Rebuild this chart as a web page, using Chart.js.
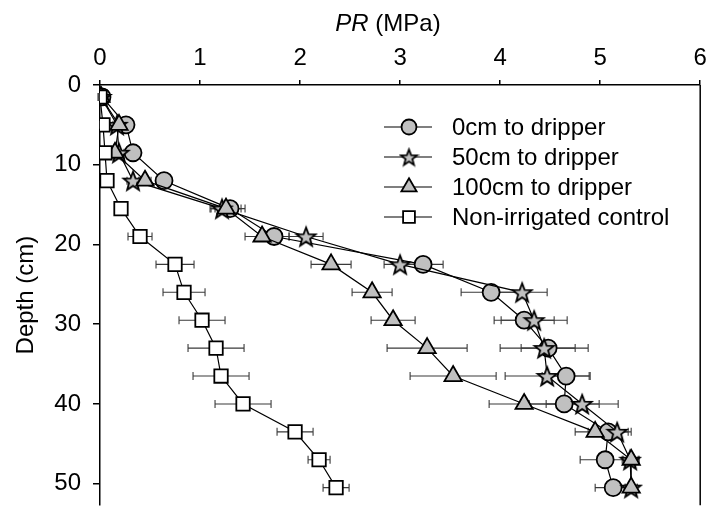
<!DOCTYPE html>
<html lang="en">
<head>
<meta charset="UTF-8">
<title>Penetration resistance by depth</title>
<script src="https://cdn.jsdelivr.net/npm/chart.js"></script>
<style>
    html, body { margin: 0; padding: 0; background: #fff; overflow: hidden; }
    #wrap { width: 712px; height: 517px; }
</style>
</head>
<body>
<div id="wrap"><canvas id="prChart" width="712" height="517"></canvas></div>
<script>
// sampling depths (cm), shared by all four profiles
const depths = [1.5, 5, 8.5, 12, 15.5, 19, 22.5, 26, 29.5, 33, 36.5, 40, 43.5, 47, 50.5];

// penetration resistance (MPa) and the +/- error for each profile
const pr0cm      = [0.02, 0.26, 0.33, 0.64, 1.30, 1.74, 3.23, 3.91, 4.24, 4.48, 4.66, 4.64, 5.08, 5.05, 5.13];
const err0cm     = [0.02, 0.05, 0.05, 0.06, 0.15, 0.15, 0.20, 0.30, 0.30, 0.27, 0.24, 0.35, 0.20, 0.25, 0.18];
const pr50cm     = [0.01, 0.17, 0.19, 0.33, 1.22, 2.06, 3.00, 4.22, 4.34, 4.44, 4.47, 4.82, 5.17, 5.30, 5.31];
const err50cm    = [0.02, 0.04, 0.05, 0.06, 0.12, 0.17, 0.16, 0.25, 0.33, 0.44, 0.42, 0.36, 0.14, 0.08, 0.06];
const pr100cm    = [0.01, 0.19, 0.15, 0.45, 1.26, 1.62, 2.31, 2.72, 2.93, 3.27, 3.53, 4.24, 4.95, 5.31, 5.31];
const err100cm   = [0.02, 0.04, 0.05, 0.06, 0.15, 0.17, 0.20, 0.20, 0.22, 0.40, 0.43, 0.35, 0.20, 0.08, 0.06];
const prControl  = [0.00, 0.03, 0.05, 0.07, 0.21, 0.40, 0.75, 0.84, 1.02, 1.16, 1.21, 1.43, 1.95, 2.19, 2.36];
const errControl = [0.02, 0.03, 0.04, 0.05, 0.06, 0.12, 0.19, 0.21, 0.23, 0.28, 0.28, 0.28, 0.18, 0.11, 0.13];

const seriesNames = ['0cm to dripper', '50cm to dripper', '100cm to dripper', 'Non-irrigated control'];
const xTicks = [0, 1, 2, 3, 4, 5, 6];
const yTicks = [0, 10, 20, 30, 40, 50];

const FONT = 'Arial, "Liberation Sans", sans-serif';
const GREY = '#c0c0c0';

// filled five-point star, used as a point style
function makeStar(outer, inner) {
    const size = Math.ceil(outer * 2 + 4);
    const c = document.createElement('canvas');
    c.width = c.height = size;
    const g = c.getContext('2d');
    g.beginPath();
    for (let i = 0; i < 10; i++) {
        const r = i % 2 ? inner : outer;
        const a = -Math.PI / 2 + i * Math.PI / 5;
        g.lineTo(size / 2 + r * Math.cos(a), size / 2 + 1 + r * Math.sin(a));
    }
    g.closePath();
    g.fillStyle = GREY;
    g.fill();
    g.lineWidth = 1.8;
    g.lineJoin = 'miter';
    g.strokeStyle = '#000';
    g.stroke();
    return c;
}
const starImg = makeStar(10, 4.2);
const starSmall = makeStar(8.5, 3.6);

function points(xs) {
    return xs.map((v, i) => ({ x: v, y: depths[i] }));
}

const styles = [
    { pointStyle: 'circle',   pointRadius: 8.5, fill: GREY },
    { pointStyle: starImg,    pointRadius: 9,   fill: GREY },
    { pointStyle: 'triangle', pointRadius: 10,  fill: GREY },
    { pointStyle: 'rect',     pointRadius: 9.5, fill: '#fff' }
];
const legendStyles = ['circle', starSmall, 'triangle', 'rect'];
const values = [pr0cm, pr50cm, pr100cm, prControl];
const errors = [err0cm, err50cm, err100cm, errControl];

const datasets = values.map((v, i) => ({
    label: seriesNames[i],
    data: points(v),
    errors: errors[i],
    showLine: true,
    borderColor: '#000',
    borderWidth: 1.2,
    pointStyle: styles[i].pointStyle,
    pointRadius: styles[i].pointRadius,
    pointBackgroundColor: styles[i].fill,
    pointBorderColor: '#000',
    pointBorderWidth: 1.8,
    order: 4 - i
}));

// horizontal error bars with caps, under the markers
const errorBars = {
    id: 'errorBars',
    beforeDatasetsDraw(chart) {
        const { ctx, scales: { x, y } } = chart;
        ctx.save();
        ctx.strokeStyle = '#3a3a3a';
        ctx.lineWidth = 1.1;
        chart.data.datasets.forEach(ds => {
            ds.data.forEach((p, i) => {
                const e = ds.errors[i];
                const x0 = x.getPixelForValue(p.x - e);
                const x1 = x.getPixelForValue(p.x + e);
                const py = y.getPixelForValue(p.y);
                ctx.beginPath();
                ctx.moveTo(x0, py); ctx.lineTo(x1, py);
                ctx.moveTo(x0, py - 4); ctx.lineTo(x0, py + 4);
                ctx.moveTo(x1, py - 4); ctx.lineTo(x1, py + 4);
                ctx.stroke();
            });
        });
        ctx.restore();
    }
};

// right frame line, top tick labels, axis title and legend
const decorations = {
    id: 'decorations',
    afterDraw(chart) {
        const { ctx, chartArea: a, scales: { x } } = chart;
        ctx.save();
        ctx.strokeStyle = '#000';
        ctx.lineWidth = 1.5;
        ctx.beginPath();
        ctx.moveTo(a.right, a.top); ctx.lineTo(a.right, a.bottom);
        ctx.stroke();

        // top axis numbers (the last one runs off the edge)
        ctx.fillStyle = '#000';
        ctx.font = '24px ' + FONT;
        ctx.textAlign = 'center';
        ctx.textBaseline = 'middle';
        xTicks.forEach(t => ctx.fillText(String(t), x.getPixelForValue(t), 58));
        ctx.textAlign = 'left';

        // "PR (MPa)" with the symbol in italics
        ctx.font = 'italic 24px ' + FONT;
        const w1 = ctx.measureText('PR').width;
        ctx.font = '24px ' + FONT;
        const w2 = ctx.measureText(' (MPa)').width;
        const tx = 388 - (w1 + w2) / 2;
        ctx.font = 'italic 24px ' + FONT;
        ctx.fillText('PR', tx, 24);
        ctx.font = '24px ' + FONT;
        ctx.fillText(' (MPa)', tx + w1, 24);

        // legend
        const rowY = [127, 157, 187, 217];
        chart.data.datasets.forEach((ds, i) => {
            const yy = rowY[i];
            ctx.strokeStyle = '#000';
            ctx.lineWidth = 1.2;
            ctx.beginPath();
            ctx.moveTo(384, yy); ctx.lineTo(432, yy);
            ctx.stroke();
            ctx.fillStyle = ds.pointBackgroundColor;
            ctx.strokeStyle = '#000';
            ctx.lineWidth = 1.8;
            Chart.helpers.drawPoint(ctx, {
                pointStyle: legendStyles[i],
                radius: ds.pointRadius * 0.88,
                borderWidth: 1.8,
                rotation: 0
            }, 409, yy);
            ctx.fillStyle = '#000';
            ctx.font = '24px ' + FONT;
            ctx.textBaseline = 'middle';
            ctx.fillText(ds.label, 452, yy + 1);
        });
        ctx.restore();
    }
};

new Chart(document.getElementById('prChart'), {
    type: 'scatter',
    data: { datasets },
    options: {
        responsive: false,
        animation: false,
        // the plot runs off the bottom edge
        layout: { padding: { left: 0, right: 5, top: 0, bottom: -5 } },
        plugins: { legend: { display: false }, tooltip: { enabled: false } },
        scales: {
            x: {
                type: 'linear',
                position: 'top',
                min: 0, max: 6,
                afterBuildTicks(s) { s.ticks = xTicks.map(v => ({ value: v })); },
                ticks: { display: false },
                grid: { drawOnChartArea: false, drawTicks: true, tickLength: 5, color: '#000', lineWidth: 1.5 },
                border: { display: true, color: '#000', width: 1.5 },
                afterFit(s) { s.height = 85; s.paddingLeft = 0; s.paddingRight = 0; }
            },
            y: {
                type: 'linear',
                reverse: true,
                min: 0, max: 52.7,
                afterBuildTicks(s) { s.ticks = yTicks.map(v => ({ value: v })); },
                ticks: { color: '#000', font: { family: FONT, size: 24 }, padding: 12 },
                grid: { drawOnChartArea: false, drawTicks: true, tickLength: 7, color: '#000', lineWidth: 1.5 },
                border: { display: true, color: '#000', width: 1.5 },
                title: { display: true, text: 'Depth (cm)', color: '#000', font: { family: FONT, size: 24 }, padding: { top: 12, bottom: 0 } },
                afterFit(s) { s.width = 100; s.paddingTop = 0; s.paddingBottom = 0; }
            }
        }
    },
    plugins: [errorBars, decorations]
});
</script>
</body>
</html>
